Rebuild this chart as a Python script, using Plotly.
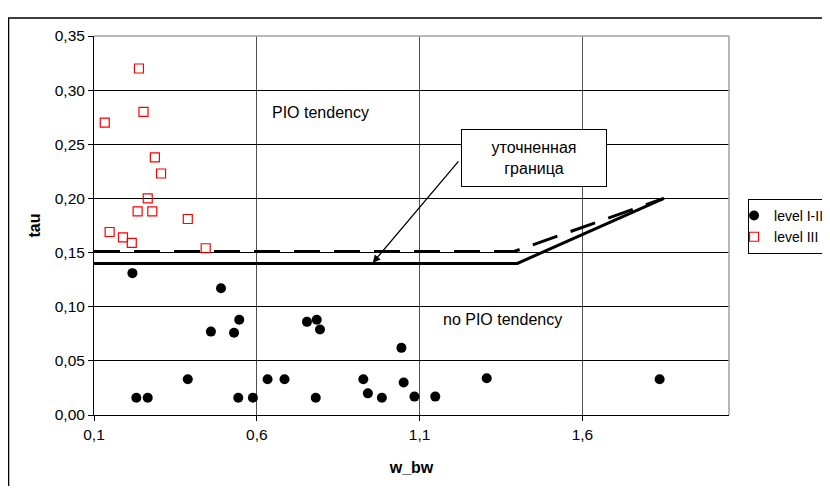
import plotly.graph_objects as go

# ---- data ----
level12_x = [0.218, 0.230, 0.265, 0.388, 0.459, 0.490, 0.530, 0.543, 0.546, 0.588,
             0.633, 0.685, 0.754, 0.781, 0.784, 0.794, 0.927, 0.941, 0.984, 1.044,
             1.051, 1.084, 1.148, 1.306, 1.837]
level12_y = [0.131, 0.016, 0.016, 0.033, 0.077, 0.117, 0.076, 0.016, 0.088, 0.016,
             0.033, 0.033, 0.086, 0.016, 0.088, 0.079, 0.033, 0.020, 0.016, 0.062,
             0.030, 0.017, 0.017, 0.034, 0.033]

level3_x = [0.133, 0.148, 0.189, 0.216, 0.234, 0.238, 0.252, 0.265, 0.279, 0.287,
            0.306, 0.388, 0.443]
level3_y = [0.270, 0.169, 0.164, 0.159, 0.188, 0.320, 0.280, 0.200, 0.188, 0.238,
            0.223, 0.181, 0.154]

solid_x = [0.1, 1.40, 1.85]
solid_y = [0.14, 0.14, 0.20]
dashed_x = [0.1, 1.39, 1.85]
dashed_y = [0.151, 0.151, 0.20]

x_ticks = [0.1, 0.6, 1.1, 1.6]
x_labels = ["0,1", "0,6", "1,1", "1,6"]
y_ticks = [0.0, 0.05, 0.10, 0.15, 0.20, 0.25, 0.30, 0.35]
y_labels = ["0,00", "0,05", "0,10", "0,15", "0,20", "0,25", "0,30", "0,35"]

FONT = "Liberation Sans, Arial, sans-serif"

fig = go.Figure()

fig.add_trace(go.Scatter(x=dashed_x, y=dashed_y, mode="lines", showlegend=False,
                         line=dict(color="black", width=3, dash="26px,14px"),
                         hoverinfo="skip"))
fig.add_trace(go.Scatter(x=solid_x, y=solid_y, mode="lines", showlegend=False,
                         line=dict(color="black", width=3), hoverinfo="skip"))

fig.add_trace(go.Scatter(x=level12_x, y=level12_y, mode="markers", name="level I-II",
                         marker=dict(symbol="circle", size=10, color="black")))
fig.add_trace(go.Scatter(x=level3_x, y=level3_y, mode="markers", name="level III",
                         marker=dict(symbol="square-open", size=9, color="red",
                                     line=dict(width=1.2, color="red"))))

fig.add_annotation(x=0.796, y=0.279, text="PIO tendency", showarrow=False,
                   font=dict(size=16, color="black", family=FONT))
fig.add_annotation(x=1.355, y=0.088, text="no PIO tendency", showarrow=False,
                   font=dict(size=16, color="black", family=FONT))

# arrow
fig.add_annotation(x=0.956, y=0.1405, ax=1.223, ay=0.2356, axref="x", ayref="y",
                   text="", showarrow=True, arrowhead=2, arrowsize=1.2,
                   arrowwidth=1.3, arrowcolor="black")
# label box
fig.add_annotation(x=1.450, y=0.2375, text="уточненная<br>граница", showarrow=False,
                   width=144, height=56, bgcolor="white", bordercolor="black",
                   borderwidth=1, borderpad=0, align="center",
                   font=dict(size=16, color="black", family=FONT))

# outer frame (cut by the picture edges)
fig.add_shape(type="rect", xref="paper", yref="paper", x0=-0.1346, x1=1.3,
              y0=-0.3, y1=1.0475, line=dict(color="black", width=1.5))
# plot area border top/right (gray)
fig.add_shape(type="line", xref="paper", yref="paper", x0=0, x1=1, y0=1, y1=1,
              line=dict(color="#a0a0a0", width=1.5))
fig.add_shape(type="line", xref="paper", yref="paper", x0=1, x1=1, y0=0, y1=1,
              line=dict(color="#a0a0a0", width=1.5))

fig.update_layout(
    width=822, height=478,
    margin=dict(l=86, r=101, t=28, b=71, autoexpand=False),
    paper_bgcolor="white", plot_bgcolor="white",
    font=dict(family=FONT, size=15, color="black"),
    legend=dict(x=1.03, y=0.570, xanchor="left", yanchor="top",
                bgcolor="white", bordercolor="black", borderwidth=1,
                font=dict(size=14, family=FONT), indentation=-15,
                tracegroupgap=0, itemwidth=30),
    xaxis=dict(range=[0.1, 2.05], tickvals=x_ticks, ticktext=x_labels,
               showgrid=True, gridcolor="#505050", gridwidth=1,
               showline=True, linecolor="black", linewidth=1,
               ticks="outside", ticklen=5, tickcolor="black", zeroline=False,
               title=dict(text="<b>w_bw</b>", standoff=20, font=dict(size=16)),
               tickfont=dict(size=15.5)),
    yaxis=dict(range=[0, 0.35], tickvals=y_ticks, ticktext=y_labels,
               showgrid=True, gridcolor="black", gridwidth=1,
               showline=True, linecolor="black", linewidth=1,
               ticks="outside", ticklen=5, tickcolor="black", zeroline=False,
               title=dict(text="<b>tau</b>", standoff=10, font=dict(size=16)),
               tickfont=dict(size=15.5)),
)

fig.write_html("out.html")
